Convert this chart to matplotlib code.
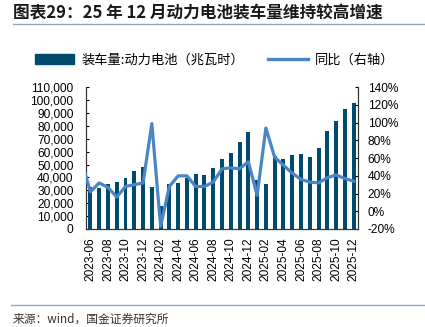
import matplotlib
matplotlib.use("Agg")
import matplotlib.pyplot as plt
from matplotlib.lines import Line2D
from matplotlib.patches import Patch

plt.rcParams['font.family'] = ['Noto Sans CJK SC', 'DejaVu Sans']

# data
months = ["2023-06", "2023-07", "2023-08", "2023-09", "2023-10", "2023-11", "2023-12",
          "2024-01", "2024-02", "2024-03", "2024-04", "2024-05", "2024-06", "2024-07",
          "2024-08", "2024-09", "2024-10", "2024-11", "2024-12", "2025-01", "2025-02",
          "2025-03", "2025-04", "2025-05", "2025-06", "2025-07", "2025-08", "2025-09",
          "2025-10", "2025-11", "2025-12"]
volume = [32900, 32200, 34900, 36600, 39400, 45200, 48300,
          32300, 18000, 35000, 35700, 39700, 42800, 41600,
          47300, 54500, 59200, 67400, 75300, 38300, 35000,
          56500, 54500, 57200, 58200, 56000, 62500, 76000,
          84100, 93500, 98100]
# yoy includes 2023-05 point (off the left edge, line is clipped there)
yoy = [56, 22, 32, 27, 16, 28, 30, 32,
       99, -17, 28, 40, 40, 28, 28, 33,
       48, 49, 48, 56, 18, 94, 61, 52,
       43, 36, 33, 32, 38, 41, 37, 34]

bar_color = "#004a6e"
line_color = "#4a86c5"
tick_font = "Liberation Sans"

fig = plt.figure(figsize=(4.25, 3.27), dpi=100)
ax = fig.add_axes([0.2024, 0.2997, 0.6400, 0.4334])
ax2 = ax.twinx()

x = list(range(len(months)))
ax.bar(x, volume, width=0.45, color=bar_color, zorder=2)
ax.set_ylim(0, 110000)
ax.set_yticks(range(0, 110001, 10000))
ax.set_yticklabels(["{:,}".format(v) for v in range(0, 110001, 10000)], fontsize=8.6,
                   family=tick_font)
ax.set_xlim(-0.5, len(months) - 0.5)
ax.set_xticks(x[::2])
ax.set_xticklabels(months[::2], rotation=90, fontsize=8.6, family=tick_font)

x2 = [-1] + x
ax2.plot(x2, yoy, color=line_color, lw=2.3, zorder=3)
ax2.set_ylim(-20, 140)
ax2.set_yticks(range(-20, 141, 20))
ax2.set_yticklabels(["{}%".format(v) for v in range(-20, 141, 20)], fontsize=8.6,
                    family=tick_font)
ax2.set_xlim(-0.5, len(months) - 0.5)

for a in (ax, ax2):
    a.spines['top'].set_visible(False)
    a.spines['left'].set_color("#333333")
    a.spines['right'].set_color("#333333")
    a.spines['bottom'].set_color("#333333")
ax.tick_params(axis='y', direction='in', length=2.5, pad=9)
ax.tick_params(axis='x', direction='in', length=2, pad=6)
ax2.tick_params(axis='y', direction='in', length=2.5, pad=7)

# legend
handles = [Patch(color=bar_color), Line2D([0], [0], color=line_color, lw=2.4)]
labels = ["装车量:动力电池（兆瓦时）", "同比（右轴）"]
fig.legend(handles, labels, loc='center', bbox_to_anchor=(0.505, 0.815), ncol=2,
           frameon=False, fontsize=9.5, handlelength=3.0, handleheight=0.8,
           columnspacing=1.8, handletextpad=0.55)

# title and lines
fig.text(0.03, 0.958, "图表29：25 年 12 月动力电池装车量维持较高增速", fontsize=12,
         fontweight='bold', style='italic', color="#1a1a1a", va='center', ha='left')
fig.add_artist(Line2D([0.03, 1.0], [0.928, 0.928], color="#8ea9c1", lw=1.0))
fig.add_artist(Line2D([0.025, 1.0], [0.067, 0.067], color="#8ea9c1", lw=1.0))
fig.text(0.03, 0.024, "来源：wind，国金证券研究所", fontsize=8.5, color="#333333",
         va='center', ha='left')

fig.savefig("out.png", dpi=100)
